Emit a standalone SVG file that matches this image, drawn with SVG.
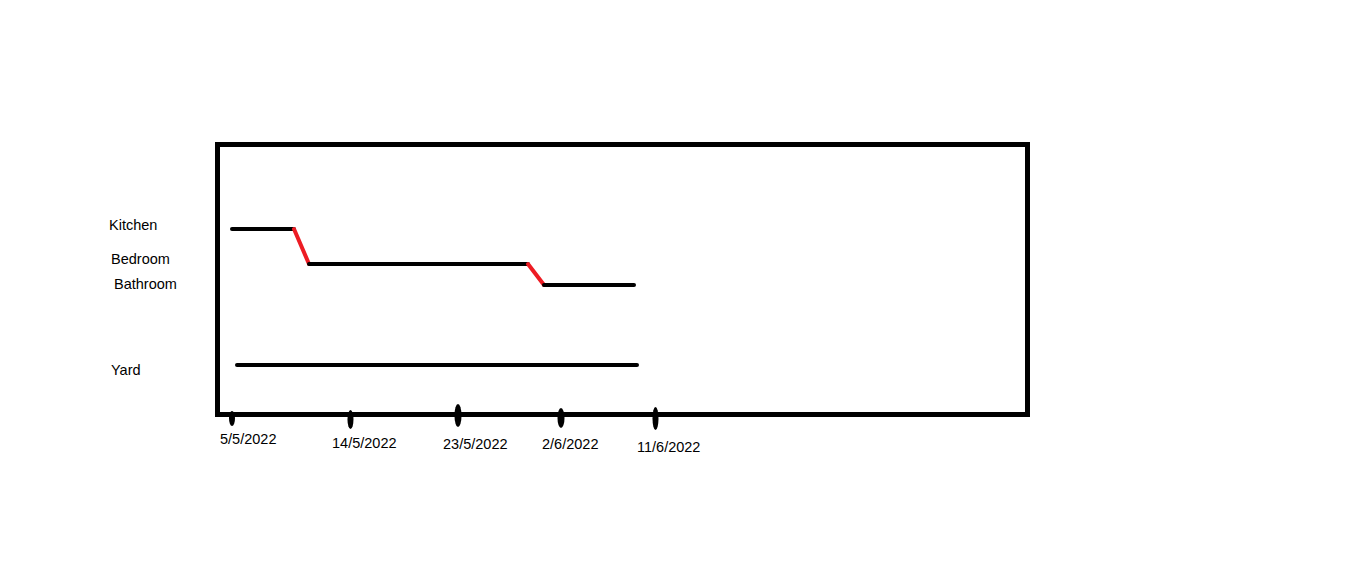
<svg xmlns="http://www.w3.org/2000/svg" width="1360" height="584" viewBox="0 0 1360 584">
<style>
text{font-family:"Liberation Sans",Arial,sans-serif;font-size:14.5px;fill:#000}
.ln{stroke:#000;stroke-width:4;stroke-linecap:round;fill:none}
.rd{stroke:#ed1c24;stroke-width:4;stroke-linecap:round;fill:none}
.tk{fill:#000}
</style>
<rect width="1360" height="584" fill="#fff"/>
<g id="frame"><rect x="217.5" y="144.5" width="810" height="270" fill="none" stroke="#000" stroke-width="5"/></g>
<g id="labels">
<text x="109" y="230">Kitchen</text>
<text x="111" y="264">Bedroom</text>
<text x="114" y="289">Bathroom</text>
<text x="111" y="375">Yard</text>
</g>
<g id="connectors">
<line class="ln" x1="232" y1="229" x2="294" y2="229"/>
<line class="rd" x1="294" y1="229" x2="309" y2="264"/>
<line class="ln" x1="309" y1="264" x2="528" y2="264"/>
<line class="rd" x1="528" y1="264" x2="544" y2="285"/>
<line class="ln" x1="544" y1="285" x2="634" y2="285"/>
<line class="ln" x1="237" y1="365" x2="637" y2="365"/>
</g>
<g id="ticks">
<ellipse class="tk" cx="232" cy="418.5" rx="3" ry="7.5"/>
<ellipse class="tk" cx="350.5" cy="419.5" rx="3" ry="9.5"/>
<ellipse class="tk" cx="458" cy="415.5" rx="3.5" ry="11.5"/>
<ellipse class="tk" cx="561" cy="418" rx="3.5" ry="10"/>
<ellipse class="tk" cx="655.5" cy="418.5" rx="3" ry="11.5"/>
</g>
<g id="dates">
<text x="220" y="444">5/5/2022</text>
<text x="332" y="448">14/5/2022</text>
<text x="443" y="449">23/5/2022</text>
<text x="542" y="449">2/6/2022</text>
<text x="637" y="452">11/6/2022</text>
</g>
</svg>
